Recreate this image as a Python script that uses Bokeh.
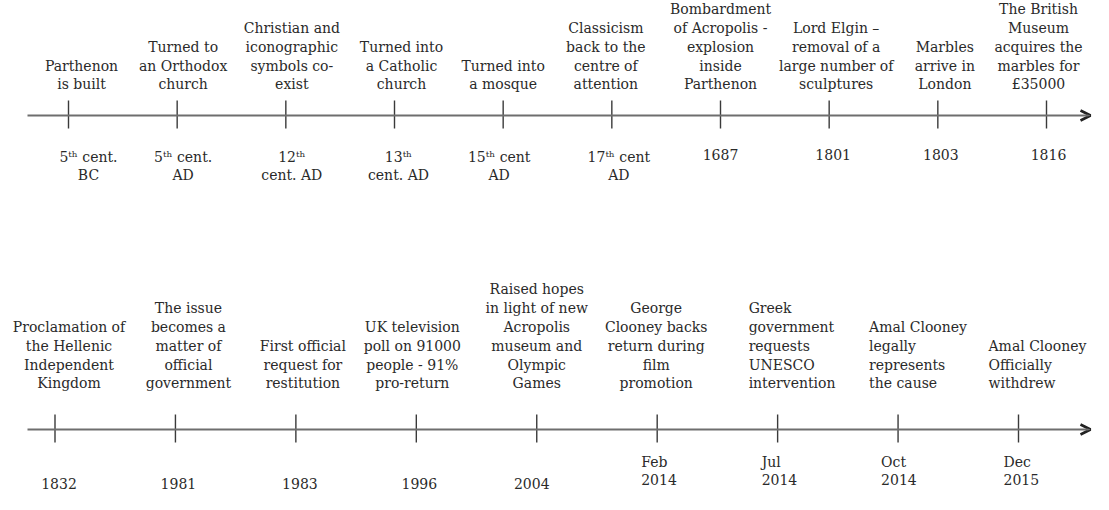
from bokeh.plotting import figure
from bokeh.models import Range1d, Arrow, OpenHead, ColumnDataSource
from bokeh.core.properties import value
from bokeh.embed import file_html
from bokeh.resources import INLINE

# ---------------- data ----------------
top_events = [
    "Parthenon\nis built",
    "Turned to\nan Orthodox\nchurch",
    "Christian and\niconographic\nsymbols co-\nexist",
    "Turned into\na Catholic\nchurch",
    "Turned into\na mosque",
    "Classicism\nback to the\ncentre of\nattention",
    "Bombardment\nof Acropolis -\nexplosion\ninside\nParthenon",
    "Lord Elgin \u2013\nremoval of a\nlarge number of\nsculptures",
    "Marbles\narrive in\nLondon",
    "The British\nMuseum\nacquires the\nmarbles for\n\u00a335000",
]
top_dates = [
    "5\u1d57\u02b0 cent.\nBC",
    "5\u1d57\u02b0 cent.\nAD",
    "12\u1d57\u02b0\ncent. AD",
    "13\u1d57\u02b0\ncent. AD",
    "15\u1d57\u02b0 cent\nAD",
    "17\u1d57\u02b0 cent\nAD",
    "1687",
    "1801",
    "1803",
    "1816",
]
bottom_events = [
    "Proclamation of\nthe Hellenic\nIndependent\nKingdom",
    "The issue\nbecomes a\nmatter of\nofficial\ngovernment",
    "First official\nrequest for\nrestitution",
    "UK television\npoll on 91000\npeople - 91%\npro-return",
    "Raised hopes\nin light of new\nAcropolis\nmuseum and\nOlympic\nGames",
    "George\nClooney backs\nreturn during\nfilm\npromotion",
    "Greek\ngovernment\nrequests\nUNESCO\nintervention",
    "Amal Clooney\nlegally\nrepresents\nthe cause",
    "Amal Clooney\nOfficially\nwithdrew",
]
bottom_dates = [
    "1832", "1981", "1983", "1996", "2004",
    "Feb\n2014", "Jul\n2014", "Oct\n2014", "Dec\n2015",
]

# ---------------- layout / style ----------------
W, H = 1093, 494
FONT = "DejaVu Serif"
FSIZE = "14px"
LH = 1.18
TXT = "#2a2a2a"

top_event_align = ["center"] * 10
top_event_dx = [13, 6, 6, 7, 0, -6, 0, 7, 7, -8]
top_date_align = ["center"] * 10
top_date_dx = [20, 6, 6, 4, -4, 7, 0, 4, 3, 2]
bot_event_align = ["center"] * 6 + ["left"] * 3
bot_event_dx = [14, 13, 7, -4, 0, -1, -29, -29, -30]
bot_date_align = ["center"] * 5 + ["left"] * 4
bot_date_dx = [4, 3, 4, 3, -5, -16, -16, -17, -15]

TOP_Y, BOT_Y = 123, 437
TOP_FIRST, TOP_LAST = 76, 1054
BOT_FIRST, BOT_LAST = 62.5, 1026


def idx_range(first_px, last_px, n):
    step = (last_px - first_px) / (n - 1)
    return Range1d(-(first_px - 8) / step, (8 + W - first_px) / step)


p = figure(width=W, height=H, output_backend="svg", toolbar_location=None,
           x_range=Range1d(8, 8 + W), y_range=Range1d(8 + H, 8),
           x_axis_location=None, y_axis_location=None, min_border=0,
           background_fill_color="white", border_fill_color="white")
p.grid.visible = False
p.outline_line_color = None
p.extra_x_ranges = {
    "top": idx_range(TOP_FIRST, TOP_LAST, len(top_events)),
    "bot": idx_range(BOT_FIRST, BOT_LAST, len(bottom_events)),
}

# timeline lines with arrow heads
for ly in (TOP_Y, BOT_Y):
    p.add_layout(Arrow(x_start=35, y_start=ly, x_end=1098, y_end=ly,
                       line_color="#6e6e6e", line_width=2.2,
                       end=OpenHead(size=10, line_width=2.6, line_color="#222222")))


def draw_row(rng, labels, dates, ev_align, ev_dx, dt_align, dt_dx, line_y,
             ev_bottom, dt_y, dt_baseline):
    n = len(labels)
    xs = list(range(n))
    p.segment(x0=xs, y0=[line_y - 15] * n, x1=xs, y1=[line_y + 13] * n,
              x_range_name=rng, line_color="#3a3a3a", line_width=1.4)
    for al in ("center", "left"):
        ii = [i for i in range(n) if ev_align[i] == al]
        if ii:
            src = ColumnDataSource(dict(x=[xs[i] for i in ii],
                                        y=[ev_bottom] * len(ii),
                                        t=[labels[i] for i in ii],
                                        dx=[ev_dx[i] for i in ii]))
            p.text(x="x", y="y", text="t", x_offset="dx", source=src,
                   x_range_name=rng, text_align=al, text_baseline="bottom",
                   text_font=value(FONT), text_font_size=FSIZE,
                   text_line_height=LH, text_color=TXT)
        jj = [i for i in range(n) if dt_align[i] == al]
        if jj:
            src = ColumnDataSource(dict(x=[xs[i] for i in jj],
                                        y=[dt_y] * len(jj),
                                        t=[dates[i] for i in jj],
                                        dx=[dt_dx[i] for i in jj]))
            p.text(x="x", y="y", text="t", x_offset="dx", source=src,
                   x_range_name=rng, text_align=al, text_baseline=dt_baseline,
                   text_font=value(FONT), text_font_size=FSIZE,
                   text_line_height=LH, text_color=TXT)


draw_row("top", top_events, top_dates, top_event_align, top_event_dx,
         top_date_align, top_date_dx, TOP_Y, 100, 156, "top")
draw_row("bot", bottom_events, bottom_dates, bot_event_align, bot_event_dx,
         bot_date_align, bot_date_dx, BOT_Y, 399, 496, "bottom")

open("out.html", "w").write(file_html(p, INLINE))
